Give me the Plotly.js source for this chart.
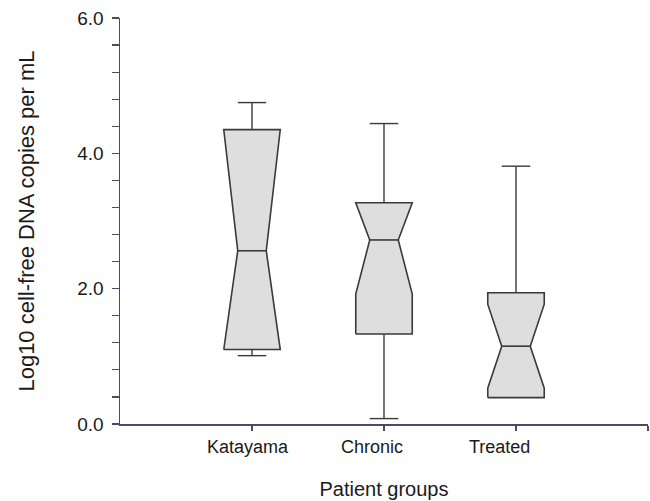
<!DOCTYPE html>
<html>
<head>
<meta charset="utf-8">
<script src="https://cdn.plot.ly/plotly-3.0.1.min.js"></script>
<style>html,body{margin:0;padding:0;background:#fff;}#chart{width:650px;height:501px;}</style>
</head>
<body>
<div id="chart"></div>
<script>
// ---- data ----
const categories = ['Katayama', 'Chronic', 'Treated'];
const whiskerLow = [1.01, 0.08, 0.39];
const q1 = [1.10, 1.33, 0.39];
const median = [2.56, 2.72, 1.15];
const q3 = [4.35, 3.27, 1.94];
const whiskerHigh = [4.75, 4.44, 3.81];
const notchLow = [0.56, 1.92, 0.53];
const notchHigh = [4.56, 3.52, 1.77];
const yTicks = [0, 2, 4, 6];

// ---- style constants ----
const HALF = 0.214;      // half box width (x data units)
const NOTCH = 0.108;     // half width at the median notch
const CAP = 0.108;       // half whisker-cap width
const LABEL_SHIFT = [-4, -12, -17]; // px offset of category labels (as in the reference)
const EDGE = '#3a3a3a';
const FILL = '#dedede';
const AXIS = '#4b4b68';
const FONT = '"Liberation Sans", Arial, sans-serif';

const traces = [];
const wx = [], wy = [];
categories.forEach((c, i) => {
  const p = i + 1;
  const L = p - HALF, R = p + HALF, Lm = p - NOTCH, Rm = p + NOTCH;
  const nl = Math.max(q1[i], notchLow[i]);
  const nh = Math.min(q3[i], notchHigh[i]);
  traces.push({
    type: 'scatter', mode: 'lines', fill: 'toself', fillcolor: FILL,
    line: {color: EDGE, width: 1.6},
    x: [L, L, Lm, L, L, R, R, Rm, R, R, L],
    y: [q1[i], nl, median[i], nh, q3[i], q3[i], nh, median[i], nl, q1[i], q1[i]],
    hoverinfo: 'skip', showlegend: false
  });
  traces.push({
    type: 'scatter', mode: 'lines', line: {color: EDGE, width: 1.6},
    x: [Lm, Rm], y: [median[i], median[i]], hoverinfo: 'skip', showlegend: false
  });
  if (whiskerHigh[i] > q3[i]) {
    wx.push(p, p, null, p - CAP, p + CAP, null);
    wy.push(q3[i], whiskerHigh[i], null, whiskerHigh[i], whiskerHigh[i], null);
  }
  if (whiskerLow[i] < q1[i]) {
    wx.push(p, p, null, p - CAP, p + CAP, null);
    wy.push(q1[i], whiskerLow[i], null, whiskerLow[i], whiskerLow[i], null);
  }
});
traces.unshift({
  type: 'scatter', mode: 'lines', line: {color: EDGE, width: 1.4},
  x: wx, y: wy, hoverinfo: 'skip', showlegend: false, connectgaps: false
});

const annotations = categories.map((c, i) => ({
  x: i + 1, xref: 'x', y: 0, yref: 'paper', yanchor: 'top', xanchor: 'center',
  yshift: -11, xshift: LABEL_SHIFT[i], text: c, showarrow: false,
  font: {family: FONT, size: 18, color: '#1a1a1a'}
}));

const layout = {
  width: 650, height: 501,
  margin: {l: 120, r: 2, t: 17.5, b: 77},
  paper_bgcolor: '#fff', plot_bgcolor: '#fff',
  font: {family: FONT, size: 18, color: '#1a1a1a'},
  showlegend: false,
  annotations: annotations,
  xaxis: {
    range: [0, 4], showgrid: false, zeroline: false,
    showline: true, linecolor: AXIS, linewidth: 1.5,
    tickmode: 'array', tickvals: [1, 2, 3, 4], showticklabels: false,
    ticks: 'outside', ticklen: 5, tickwidth: 1.5, tickcolor: AXIS,
    title: {text: 'Patient groups', font: {size: 20}, standoff: 52}
  },
  yaxis: {
    range: [0, 6], showgrid: false, zeroline: false,
    showline: true, linecolor: AXIS, linewidth: 1.5,
    tickmode: 'array', tickvals: yTicks, tickformat: '.1f',
    ticks: 'outside', ticklen: 7, tickwidth: 1.5, tickcolor: AXIS,
    ticklabelstandoff: 4,
    minor: {dtick: 0.4, ticks: 'outside', ticklen: 7, tickwidth: 1.2, tickcolor: AXIS, showgrid: false},
    tickfont: {size: 19},
    title: {text: 'Log10 cell-free DNA copies per mL', font: {size: 22}, standoff: 36}
  }
};

Plotly.newPlot('chart', traces, layout, {staticPlot: true, displayModeBar: false});
</script>
</body>
</html>
